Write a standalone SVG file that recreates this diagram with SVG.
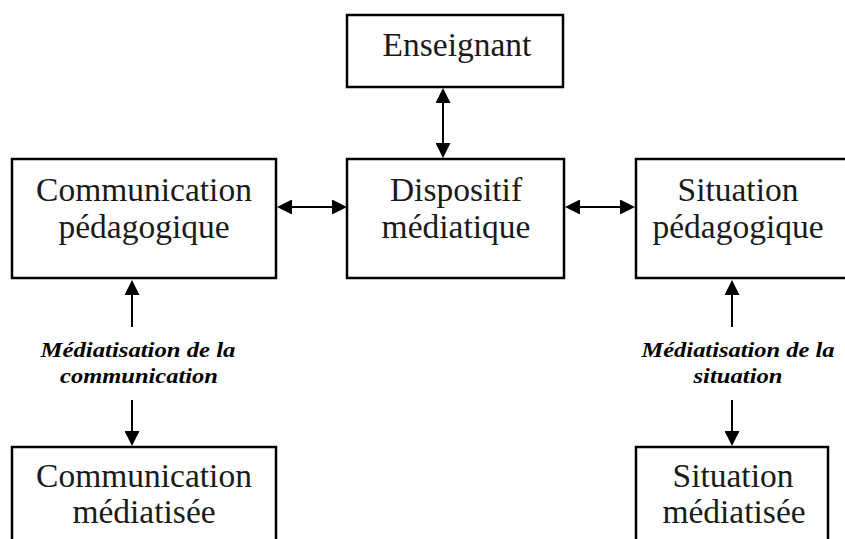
<svg xmlns="http://www.w3.org/2000/svg" width="845" height="539" viewBox="0 0 845 539">
<style>
.box{fill:#fff;stroke:#000;stroke-width:2.5}
.t{font-family:"Liberation Serif","Times New Roman",serif;font-size:33.5px;fill:#1a1a1a;text-anchor:middle}
.lbl{font-family:"Liberation Serif","Times New Roman",serif;font-size:21px;font-weight:bold;font-style:italic;fill:#000;text-anchor:middle}
.c{stroke:#000;stroke-width:2;fill:none}
</style>
<defs>
<marker id="ah" viewBox="0 0 15 15" refX="12" refY="7.5" markerWidth="15" markerHeight="15" markerUnits="userSpaceOnUse" orient="auto-start-reverse">
<path d="M0,0 L15,7.5 L0,15 z" fill="#000"/>
</marker>
</defs>
<g id="enseignant">
<rect class="box" x="347" y="15" width="216" height="72"/>
<text class="t" x="457" y="56">Enseignant</text>
</g>
<g id="communication-pedagogique">
<rect class="box" x="12" y="159" width="264" height="119"/>
<text class="t" x="144" y="201">Communication</text>
<text class="t" x="144" y="238">pédagogique</text>
</g>
<g id="dispositif-mediatique">
<rect class="box" x="347" y="159" width="217" height="119"/>
<text class="t" x="456" y="201">Dispositif</text>
<text class="t" x="456" y="238">médiatique</text>
</g>
<g id="situation-pedagogique">
<rect class="box" x="636" y="159" width="220" height="119"/>
<text class="t" x="738" y="201">Situation</text>
<text class="t" x="738" y="238">pédagogique</text>
</g>
<g id="communication-mediatisee">
<rect class="box" x="12" y="447" width="264" height="110"/>
<text class="t" x="144" y="487">Communication</text>
<text class="t" x="144" y="523">médiatisée</text>
</g>
<g id="situation-mediatisee">
<rect class="box" x="636" y="447" width="192" height="110"/>
<text class="t" x="733" y="487">Situation</text>
<text class="t" x="734" y="523">médiatisée</text>
</g>
<g id="connectors">
<line class="c" x1="443" y1="91" x2="443" y2="155" marker-start="url(#ah)" marker-end="url(#ah)"/>
<line class="c" x1="280" y1="207" x2="344" y2="207" marker-start="url(#ah)" marker-end="url(#ah)"/>
<line class="c" x1="568" y1="207" x2="632" y2="207" marker-start="url(#ah)" marker-end="url(#ah)"/>
<line class="c" x1="132" y1="327" x2="132" y2="283" marker-end="url(#ah)"/>
<line class="c" x1="132" y1="400" x2="132" y2="443" marker-end="url(#ah)"/>
<line class="c" x1="732" y1="327" x2="732" y2="283" marker-end="url(#ah)"/>
<line class="c" x1="732" y1="400" x2="732" y2="443" marker-end="url(#ah)"/>
</g>
<g id="labels">
<text class="lbl" x="138" y="357" textLength="195" lengthAdjust="spacingAndGlyphs">Médiatisation de la</text>
<text class="lbl" x="139" y="383" textLength="158" lengthAdjust="spacingAndGlyphs">communication</text>
<text class="lbl" x="738" y="357" textLength="193" lengthAdjust="spacingAndGlyphs">Médiatisation de la</text>
<text class="lbl" x="738" y="383" textLength="89" lengthAdjust="spacingAndGlyphs">situation</text>
</g>
</svg>
